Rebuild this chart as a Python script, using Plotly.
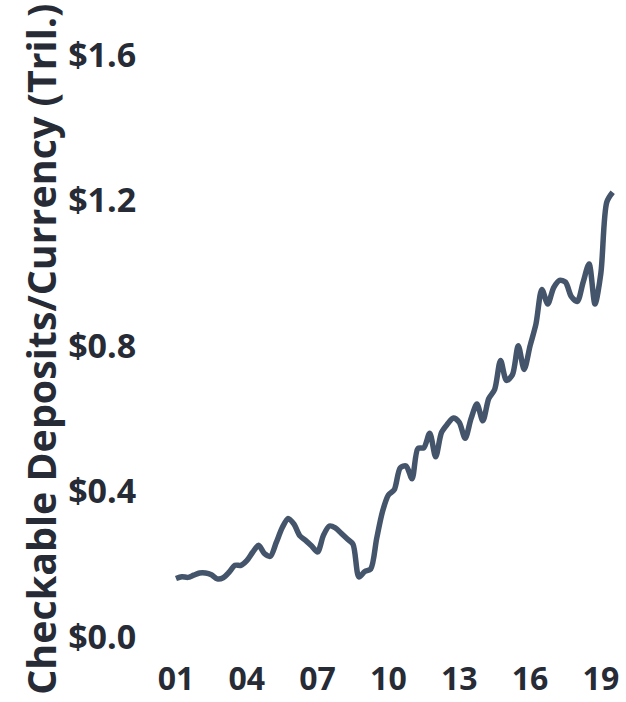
import plotly.graph_objects as go

# Quarterly observations, 2001 Q1 through 2019 Q3 (trillions of dollars)
years = [2001 + i * 0.25 for i in range(75)]
values = [
    0.161, 0.166, 0.164, 0.170,   # 2001
    0.176, 0.176, 0.171, 0.160,   # 2002
    0.163, 0.178, 0.197, 0.197,   # 2003
    0.210, 0.233, 0.252, 0.229,   # 2004
    0.222, 0.260, 0.300, 0.326,   # 2005
    0.310, 0.278, 0.265, 0.250,   # 2006
    0.234, 0.280, 0.305, 0.300,   # 2007
    0.285, 0.270, 0.255, 0.165,   # 2008
    0.180, 0.187, 0.270, 0.345,   # 2009
    0.390, 0.405, 0.465, 0.470,   # 2010
    0.435, 0.518, 0.520, 0.560,   # 2011
    0.495, 0.562, 0.585, 0.602,   # 2012
    0.590, 0.546, 0.600, 0.640,   # 2013
    0.594, 0.655, 0.680, 0.760,   # 2014
    0.705, 0.720, 0.800, 0.735,   # 2015
    0.800, 0.860, 0.955, 0.915,   # 2016
    0.960, 0.980, 0.975, 0.935,   # 2017
    0.922, 0.975, 1.025, 0.915,   # 2018
    1.000, 1.195, 1.222,          # 2019
]

x_tickvals = [2001, 2004, 2007, 2010, 2013, 2016, 2019]
x_ticktext = ["01", "04", "07", "10", "13", "16", "19"]
y_tickvals = [0.0, 0.4, 0.8, 1.2, 1.6]
y_ticktext = ["$0.0", "$0.4", "$0.8", "$1.2", "$1.6"]

LINE = "#44546A"
TEXT = "#262B35"
FONT = "Open Sans"

fig = go.Figure()
fig.add_trace(go.Scatter(
    x=years, y=values, mode="lines",
    line=dict(color=LINE, width=5.5, shape="spline", smoothing=0.8),
    hoverinfo="skip",
))

fig.update_layout(
    width=626, height=702,
    margin=dict(l=150, r=6, t=10, b=54),
    paper_bgcolor="white", plot_bgcolor="white",
    showlegend=False,
    font=dict(family=FONT, color=TEXT, size=34, weight="bold"),
    xaxis=dict(
        range=[1999.9, 2019.81], automargin=False,
        tickvals=x_tickvals, ticktext=x_ticktext,
        showgrid=False, zeroline=False, showline=False,
        ticks="outside", ticklen=3, tickcolor="rgba(0,0,0,0)",
        tickfont=dict(family=FONT, size=32, color=TEXT, weight="bold"),
    ),
    yaxis=dict(
        range=[-0.03, 1.7225], automargin=False,
        tickvals=y_tickvals, ticktext=y_ticktext,
        showgrid=False, zeroline=False, showline=False,
        ticks="outside", ticklen=6, tickcolor="rgba(0,0,0,0)",
        tickfont=dict(family=FONT, size=34, color=TEXT, weight="bold"),
    ),
    annotations=[dict(
        text="Checkable Deposits/Currency (Tril.)",
        xref="paper", yref="paper",
        x=-0.232, y=0.469, xanchor="center", yanchor="middle",
        textangle=-90, showarrow=False,
        font=dict(family=FONT, size=39.4, color=TEXT, weight="bold"),
    )],
)

fig.write_html("out.html")
